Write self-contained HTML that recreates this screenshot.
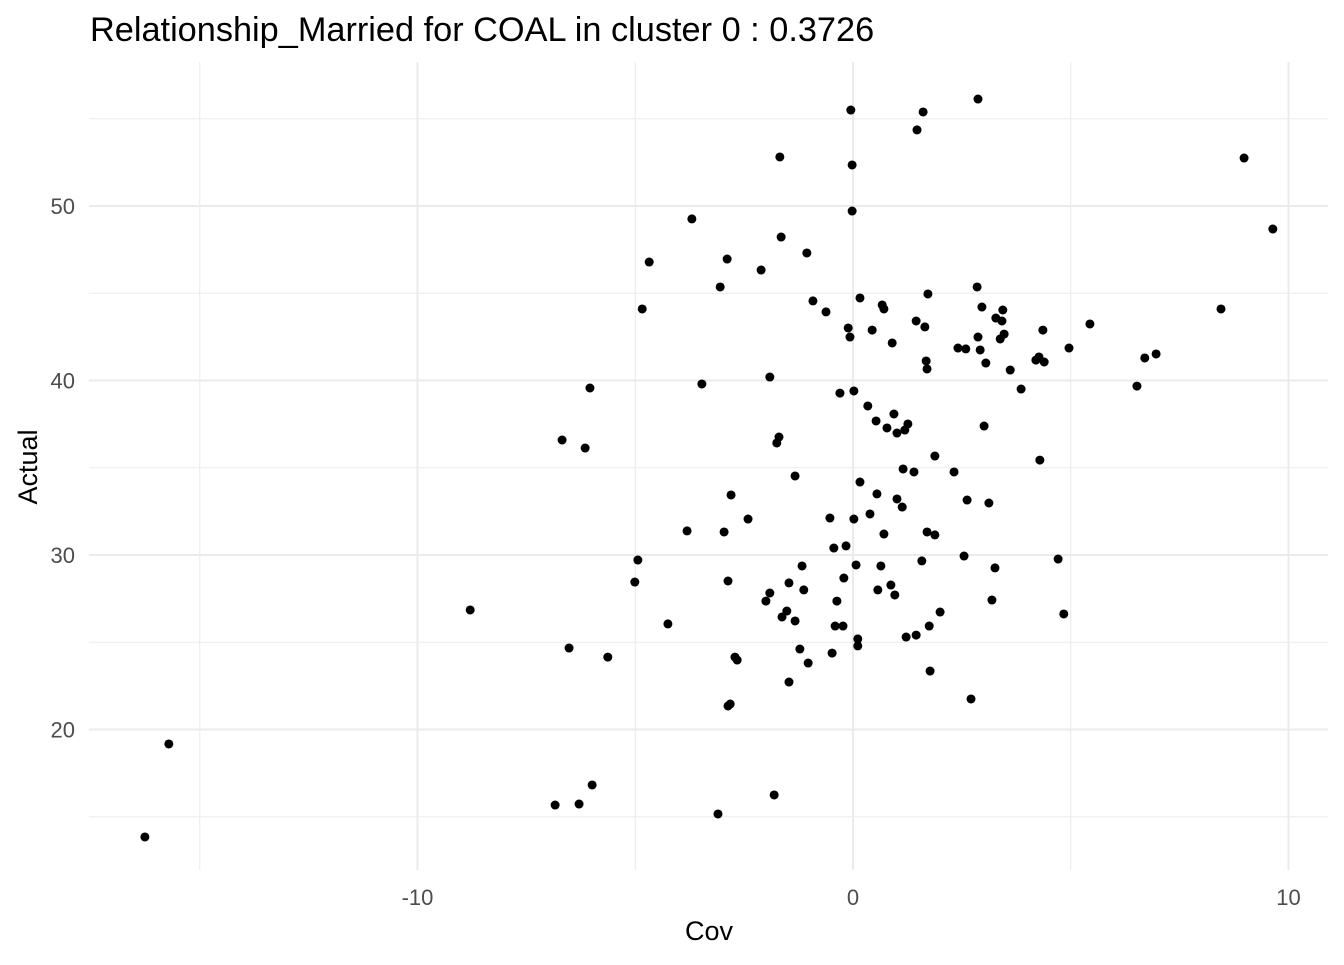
<!DOCTYPE html>
<html><head><meta charset="utf-8"><style>
body{margin:0;background:#fff}
svg text{font-family:"Liberation Sans",Arial,sans-serif}
</style></head><body>
<svg id="chart" width="1344" height="960" xmlns="http://www.w3.org/2000/svg">
<rect width="1344" height="960" fill="#fff"/>
<g id="grid"></g>
<g id="points"></g>
<g id="ticks"></g>
<text x="90" y="41" font-size="34.3" fill="#000">Relationship_Married for COAL in cluster 0 : 0.3726</text>
<text x="709" y="940" font-size="27" text-anchor="middle" fill="#000">Cov</text>
<text transform="translate(37,467) rotate(-90)" font-size="27" text-anchor="middle" fill="#000">Actual</text>
</svg>
<script>
const xs=[-16.26,-15.71,-8.79,-6.84,-6.29,-5.99,-6.52,-5.63,-6.68,-6.15,-6.04,-5.01,-4.94,-4.84,-4.68,-4.25,-3.81,-3.70,-3.47,-3.10,-3.05,-2.96,-2.89,-2.87,-2.87,-2.82,-2.80,-2.71,-2.66,-2.41,-2.11,-2.00,-1.91,-1.91,-1.81,-1.75,-1.70,-1.68,-1.65,-1.63,-1.52,-1.47,-1.47,-1.33,-1.33,-1.22,-1.17,-1.13,-1.06,-1.03,-0.92,-0.62,-0.53,-0.48,-0.44,-0.41,-0.37,-0.30,-0.23,-0.21,-0.16,-0.11,-0.07,-0.05,-0.02,-0.02,0.02,0.02,0.07,0.11,0.11,0.16,0.16,0.34,0.39,0.44,0.53,0.55,0.57,0.64,0.67,0.71,0.71,0.78,0.87,0.90,0.94,0.96,1.01,1.01,1.13,1.15,1.19,1.22,1.26,1.40,1.45,1.45,1.47,1.58,1.61,1.65,1.68,1.70,1.70,1.72,1.75,1.77,1.88,1.88,2.00,2.32,2.41,2.55,2.59,2.62,2.71,2.85,2.87,2.87,2.92,2.96,3.01,3.05,3.12,3.19,3.26,3.28,3.38,3.42,3.44,3.47,3.61,3.86,4.20,4.27,4.29,4.36,4.39,4.71,4.84,4.96,5.44,6.52,6.70,6.96,8.45,8.98,9.64];
const ys=[13.84,19.17,26.85,15.67,15.73,16.82,24.67,24.15,36.59,36.13,39.57,28.45,29.71,44.10,46.79,26.05,31.38,49.26,39.80,15.16,45.36,31.32,46.96,28.51,21.35,21.46,33.44,24.15,23.98,32.06,46.33,27.36,27.82,40.20,16.25,36.42,36.76,52.81,48.22,26.45,26.79,28.40,22.72,26.22,34.53,24.61,29.37,28.00,47.31,23.81,44.56,43.93,32.12,24.38,30.40,25.93,27.36,39.28,25.93,28.68,30.52,43.01,42.49,55.50,52.35,49.71,39.40,32.06,29.43,25.19,24.79,34.18,44.73,38.54,32.35,42.89,37.68,33.50,28.00,29.37,44.33,44.10,31.20,37.28,28.28,42.15,38.08,27.71,36.99,33.21,32.75,34.93,37.16,25.30,37.51,34.76,25.41,43.41,54.36,29.66,55.39,43.07,41.12,40.66,31.32,44.96,25.93,23.35,31.15,35.67,26.73,34.76,41.86,29.94,41.81,33.15,21.75,45.36,56.13,42.49,41.75,44.21,37.39,41.00,32.98,27.42,29.26,43.58,42.38,43.41,44.04,42.66,40.60,39.51,41.17,41.35,35.44,42.89,41.06,29.77,26.62,41.86,43.24,39.68,41.29,41.52,44.10,52.75,48.68];
const xTicks=[-10,0,10];
const xMinor=[-15,-5,5];
const yTicks=[20,30,40,50];
const yMinor=[15,25,35,45,55];
const X=v=>853+v*43.55, Y=v=>206-(v-50)*17.45;
const NS='http://www.w3.org/2000/svg';
const L=89,R=1328,T=62,B=870;
const grid=document.getElementById('grid'),pts=document.getElementById('points'),tk=document.getElementById('ticks');
function line(x1,y1,x2,y2,w,name){const l=document.createElementNS(NS,'line');l.setAttribute('x1',x1);l.setAttribute('y1',y1);l.setAttribute('x2',x2);l.setAttribute('y2',y2);l.setAttribute('stroke','#ebebeb');l.setAttribute('stroke-width',w);


grid.appendChild(l);}
xMinor.forEach(v=>line(X(v),T,X(v),B,1.1,'x-minor-gridline'));
yMinor.forEach(v=>line(L,Y(v),R,Y(v),1.1,'y-minor-gridline'));
xTicks.forEach(v=>line(X(v),T,X(v),B,2,'x-major-gridline'));
yTicks.forEach(v=>line(L,Y(v),R,Y(v),2,'y-major-gridline'));
function txt(x,y,s,a){const t=document.createElementNS(NS,'text');t.setAttribute('x',x);t.setAttribute('y',y);t.setAttribute('font-size','22');t.setAttribute('fill','#4d4d4d');t.setAttribute('text-anchor',a);t.textContent=s;


tk.appendChild(t);}
xTicks.forEach(v=>txt(X(v),905,String(v),'middle'));
yTicks.forEach(v=>txt(75,Y(v)+8,String(v),'end'));
xs.forEach((x,i)=>{const c=document.createElementNS(NS,'circle');c.setAttribute('cx',X(x));c.setAttribute('cy',Y(ys[i]));c.setAttribute('r','4.5');c.setAttribute('fill','#000');


pts.appendChild(c);});
</script>
</body></html>
